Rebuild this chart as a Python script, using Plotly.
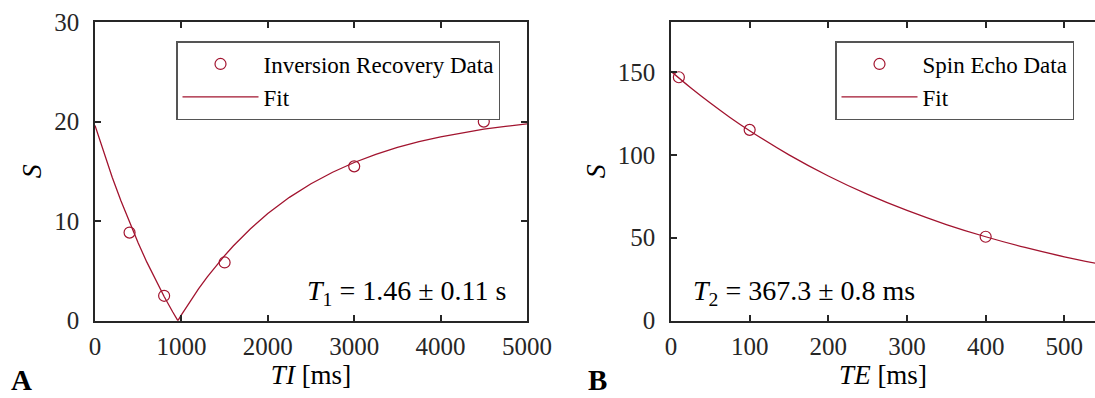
import plotly.graph_objects as go

# ---- Data ----
ir_ti = [400, 800, 1500, 3000, 4500]
ir_s = [8.85, 2.5, 5.85, 15.5, 20.0]

ir_fit_ti = [0, 100, 200, 300, 400, 500, 600, 700, 800, 900, 959, 1000, 1100, 1200, 1300,
             1400, 1500, 1600, 1800, 2000, 2250, 2500, 2750, 3000, 3250, 3500, 3750,
             4000, 4250, 4500, 4750, 5000]
ir_fit_s = [19.6, 16.91, 14.39, 12.04, 9.85, 7.80, 5.88, 4.10, 2.43, 0.87, 0.0, 0.58, 1.94,
            3.21, 4.40, 5.50, 6.53, 7.50, 9.24, 10.76, 12.39, 13.75, 14.91, 15.89, 16.71,
            17.40, 17.98, 18.47, 18.88, 19.23, 19.52, 19.77]

se_te = [10, 100, 400]
se_s = [146.7, 115.0, 50.6]

se_fit_te = [0, 25, 50, 75, 100, 150, 200, 250, 300, 350, 400, 450, 500, 550]
se_fit_s = [150.3, 140.4, 131.17, 122.5, 114.48, 99.91, 87.19, 76.10, 66.42, 57.96,
            50.59, 44.14, 38.52, 33.62]

ir_xticks = [0, 1000, 2000, 3000, 4000, 5000]
ir_yticks = [0, 10, 20, 30]
se_xticks = [0, 100, 200, 300, 400, 500]
se_yticks = [0, 50, 100, 150]

RED = "#A2142F"
AX = "#262626"
FONT = "Liberation Serif"

W, H = 1095, 398

fig = go.Figure()

fig.add_trace(go.Scatter(x=ir_ti, y=ir_s, mode="markers", name="Inversion Recovery Data",
                         marker=dict(symbol="circle-open", size=11, color=RED, line=dict(width=1.2)),
                         xaxis="x", yaxis="y", legend="legend"))
fig.add_trace(go.Scatter(x=ir_fit_ti, y=ir_fit_s, mode="lines", name="Fit",
                         line=dict(color=RED, width=1.3),
                         xaxis="x", yaxis="y", legend="legend"))
fig.add_trace(go.Scatter(x=se_te, y=se_s, mode="markers", name="Spin Echo Data",
                         marker=dict(symbol="circle-open", size=11, color=RED, line=dict(width=1.2)),
                         xaxis="x2", yaxis="y2", legend="legend2"))
fig.add_trace(go.Scatter(x=se_fit_te, y=se_fit_s, mode="lines", name="Fit",
                         line=dict(color=RED, width=1.3), line_shape="spline",
                         xaxis="x2", yaxis="y2", legend="legend2"))

y0 = 1 - 320.7 / H
y1 = 1 - 22 / H

axis_common = dict(showline=True, linecolor=AX, linewidth=1.5, ticks="inside", ticklen=6,
                   tickcolor=AX, tickwidth=1.5, showgrid=False, zeroline=False,
                   automargin=False,
                   tickfont=dict(family=FONT, size=25, color=AX))

fig.update_layout(
    width=W, height=H, autosize=False,
    margin=dict(l=0, r=0, t=0, b=0, pad=0, autoexpand=False),
    paper_bgcolor="white", plot_bgcolor="white",
    font=dict(family=FONT, color=AX),
    xaxis=dict(domain=[95 / W, 527 / W], range=[0, 5000], tickvals=ir_xticks,
               mirror="ticks", anchor="y", ticklabelstandoff=3,
               title=dict(text="<i>TI</i> [ms]", font=dict(family=FONT, size=27, color="black"), standoff=6),
               **axis_common),
    yaxis=dict(domain=[y0, y1], range=[0, 30], tickvals=ir_yticks, mirror="ticks",
               anchor="x", ticklabelstandoff=9,
               title=dict(text="<i>S</i>", font=dict(family=FONT, size=28, color="black"), standoff=4),
               **axis_common),
    xaxis2=dict(domain=[671 / W, 1.0], range=[0, 539], tickvals=se_xticks,
                mirror="ticks", anchor="y2", ticklabelstandoff=3,
                title=dict(text="<i>TE</i> [ms]", font=dict(family=FONT, size=27, color="black"), standoff=6),
                **axis_common),
    yaxis2=dict(domain=[y0, y1], range=[0, 180], tickvals=se_yticks, mirror=False,
                anchor="x2", ticklabelstandoff=9,
                title=dict(text="<i>S</i>", font=dict(family=FONT, size=28, color="black"), standoff=4),
                **axis_common),
    legend=dict(x=176 / W, y=1 - 41 / H, xanchor="left", yanchor="top",
                bgcolor="white", bordercolor="#555555", borderwidth=1.5,
                font=dict(family=FONT, size=23, color="black"), itemwidth=76,
                tracegroupgap=0),
    legend2=dict(x=835 / W, y=1 - 41 / H, xanchor="left", yanchor="top",
                 bgcolor="white", bordercolor="#555555", borderwidth=1.5,
                 font=dict(family=FONT, size=23, color="black"), itemwidth=76,
                 tracegroupgap=0),
    annotations=[
        dict(text="<i>T</i><sub>1</sub> = 1.46 ± 0.11 s", xref="paper", yref="paper",
             x=508 / W, y=1 - 292 / H, xanchor="right", yanchor="middle", showarrow=False,
             font=dict(family=FONT, size=28, color="black")),
        dict(text="<i>T</i><sub>2</sub> = 367.3 ± 0.8 ms", xref="paper", yref="paper",
             x=691 / W, y=1 - 292 / H, xanchor="left", yanchor="middle", showarrow=False,
             font=dict(family=FONT, size=28, color="black")),
        dict(text="<b>A</b>", xref="paper", yref="paper", x=9 / W, y=0, xanchor="left",
             yanchor="bottom", showarrow=False, font=dict(family=FONT, size=29, color="black")),
        dict(text="<b>B</b>", xref="paper", yref="paper", x=586 / W, y=0, xanchor="left",
             yanchor="bottom", showarrow=False, font=dict(family=FONT, size=29, color="black")),
    ],
)

fig.write_html("out.html")
